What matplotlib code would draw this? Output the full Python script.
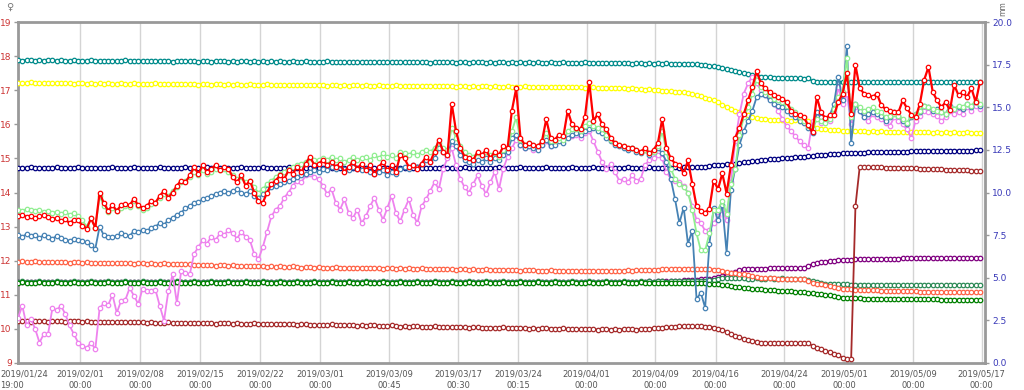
import numpy as np
import pandas as pd
import matplotlib
matplotlib.use('Agg')
import matplotlib.pyplot as plt
import matplotlib.transforms as mtransforms

# ─────────────────────────────────────────
# DATA  (12-hourly readings, 2019/01/24 19:00 -> 2019/05/16 19:00)
# ─────────────────────────────────────────
start_time = '2019-01-24 19:00'
n_points = 225

tick_times = ['2019-01-24 19:00', '2019-02-01 00:00', '2019-02-08 00:00',
              '2019-02-15 00:00', '2019-02-22 00:00', '2019-03-01 00:00',
              '2019-03-09 00:45', '2019-03-17 00:30', '2019-03-24 00:15',
              '2019-04-01 00:00', '2019-04-09 00:00', '2019-04-16 00:00',
              '2019-04-24 00:00', '2019-05-01 00:00', '2019-05-09 00:00',
              '2019-05-17 00:00']

left_ticks = [9, 10, 11, 12, 13, 14, 15, 16, 17, 18, 19]
right_ticks = [0.0, 2.5, 5.0, 7.5, 10.0, 12.5, 15.0, 17.5, 20.0]

teal = [
    17.88, 17.87, 17.89, 17.88, 17.86, 17.88, 17.87, 17.89, 17.88, 17.87,
    17.88, 17.86, 17.87, 17.88, 17.87, 17.86, 17.87, 17.88, 17.86, 17.87,
    17.86, 17.87, 17.85, 17.87, 17.86, 17.88, 17.87, 17.85, 17.86, 17.87,
    17.86, 17.85, 17.86, 17.87, 17.85, 17.86, 17.84, 17.86, 17.85, 17.86,
    17.85, 17.86, 17.84, 17.85, 17.86, 17.84, 17.85, 17.86, 17.85, 17.84,
    17.85, 17.84, 17.86, 17.85, 17.84, 17.85, 17.83, 17.85, 17.84, 17.85,
    17.84, 17.85, 17.83, 17.84, 17.85, 17.83, 17.84, 17.85, 17.84, 17.83,
    17.84, 17.83, 17.85, 17.84, 17.83, 17.84, 17.82, 17.84, 17.83, 17.84,
    17.83, 17.84, 17.82, 17.83, 17.84, 17.82, 17.83, 17.84, 17.83, 17.82,
    17.83, 17.82, 17.84, 17.83, 17.82, 17.83, 17.81, 17.83, 17.82, 17.83,
    17.82, 17.83, 17.81, 17.82, 17.83, 17.81, 17.82, 17.83, 17.82, 17.81,
    17.82, 17.81, 17.83, 17.82, 17.81, 17.82, 17.80, 17.82, 17.81, 17.82,
    17.81, 17.82, 17.80, 17.81, 17.82, 17.80, 17.81, 17.82, 17.81, 17.80,
    17.81, 17.80, 17.82, 17.81, 17.80, 17.81, 17.79, 17.81, 17.80, 17.81,
    17.80, 17.79, 17.80, 17.78, 17.79, 17.80, 17.78, 17.79, 17.78, 17.79,
    17.78, 17.79, 17.77, 17.78, 17.77, 17.78, 17.76, 17.77, 17.76, 17.75,
    17.74, 17.72, 17.70, 17.68, 17.66, 17.62, 17.58, 17.55, 17.52, 17.50,
    17.47, 17.45, 17.42, 17.40, 17.39, 17.38, 17.37, 17.36, 17.36, 17.35,
    17.35, 17.36, 17.35, 17.34, 17.35, 17.27, 17.25, 17.24, 17.25, 17.24,
    17.25, 17.24, 17.25, 17.24, 17.23, 17.24, 17.25, 17.24, 17.23, 17.24,
    17.24, 17.25, 17.24, 17.23, 17.24, 17.25, 17.24, 17.23, 17.24, 17.25,
    17.24, 17.23, 17.24, 17.25, 17.24, 17.23, 17.24, 17.25, 17.24, 17.23,
    17.24, 17.25, 17.24, 17.23, 17.24]

yellow = [
    17.20, 17.22, 17.21, 17.23, 17.22, 17.20, 17.21, 17.22, 17.20, 17.21,
    17.22, 17.20, 17.21, 17.19, 17.20, 17.21, 17.19, 17.20, 17.18, 17.20,
    17.19, 17.20, 17.18, 17.19, 17.20, 17.18, 17.19, 17.20, 17.19, 17.18,
    17.19, 17.18, 17.20, 17.19, 17.17, 17.18, 17.19, 17.17, 17.18, 17.19,
    17.17, 17.18, 17.16, 17.18, 17.17, 17.16, 17.18, 17.17, 17.16, 17.17,
    17.16, 17.17, 17.15, 17.16, 17.17, 17.15, 17.16, 17.15, 17.17, 17.16,
    17.15, 17.16, 17.14, 17.15, 17.16, 17.14, 17.15, 17.14, 17.16, 17.15,
    17.14, 17.15, 17.13, 17.14, 17.15, 17.13, 17.14, 17.13, 17.15, 17.14,
    17.13, 17.14, 17.12, 17.13, 17.14, 17.12, 17.13, 17.12, 17.14, 17.13,
    17.12, 17.13, 17.11, 17.12, 17.13, 17.11, 17.12, 17.11, 17.13, 17.12,
    17.11, 17.12, 17.10, 17.11, 17.12, 17.10, 17.11, 17.10, 17.12, 17.11,
    17.10, 17.11, 17.09, 17.10, 17.11, 17.09, 17.10, 17.09, 17.11, 17.10,
    17.09, 17.10, 17.08, 17.09, 17.10, 17.08, 17.09, 17.08, 17.10, 17.09,
    17.08, 17.09, 17.07, 17.08, 17.09, 17.07, 17.06, 17.07, 17.05, 17.06,
    17.05, 17.06, 17.04, 17.05, 17.03, 17.04, 17.02, 17.03, 17.01, 17.00,
    16.99, 16.98, 16.97, 16.96, 16.95, 16.94, 16.92, 16.90, 16.86, 16.82,
    16.78, 16.74, 16.70, 16.64, 16.58, 16.52, 16.46, 16.40, 16.35, 16.30,
    16.26, 16.22, 16.19, 16.17, 16.15, 16.14, 16.13, 16.12, 16.12, 16.12,
    16.11, 16.12, 16.11, 16.12, 16.10, 15.92, 15.88, 15.86, 15.85, 15.84,
    15.83, 15.82, 15.81, 15.80, 15.80, 15.79, 15.80, 15.79, 15.78, 15.79,
    15.78, 15.79, 15.78, 15.77, 15.78, 15.77, 15.78, 15.77, 15.76, 15.77,
    15.76, 15.77, 15.76, 15.75, 15.76, 15.75, 15.76, 15.75, 15.76, 15.75,
    15.75, 15.76, 15.75, 15.74, 15.75]

navy = [
    14.73, 14.72, 14.73, 14.74, 14.73, 14.72, 14.73, 14.72, 14.73, 14.74,
    14.73, 14.72, 14.73, 14.72, 14.74, 14.73, 14.72, 14.73, 14.72, 14.73,
    14.72, 14.73, 14.74, 14.73, 14.72, 14.73, 14.72, 14.74, 14.73, 14.72,
    14.73, 14.72, 14.73, 14.74, 14.73, 14.72, 14.73, 14.72, 14.73, 14.74,
    14.73, 14.72, 14.73, 14.72, 14.74, 14.73, 14.72, 14.73, 14.72, 14.73,
    14.72, 14.73, 14.74, 14.73, 14.72, 14.73, 14.72, 14.74, 14.73, 14.72,
    14.73, 14.72, 14.73, 14.74, 14.73, 14.72, 14.73, 14.72, 14.73, 14.74,
    14.73, 14.72, 14.73, 14.72, 14.74, 14.73, 14.72, 14.73, 14.72, 14.73,
    14.72, 14.73, 14.74, 14.73, 14.72, 14.73, 14.72, 14.74, 14.73, 14.72,
    14.73, 14.72, 14.73, 14.74, 14.73, 14.72, 14.73, 14.72, 14.73, 14.74,
    14.73, 14.72, 14.73, 14.72, 14.74, 14.73, 14.72, 14.73, 14.72, 14.73,
    14.72, 14.73, 14.74, 14.73, 14.72, 14.73, 14.72, 14.74, 14.73, 14.72,
    14.73, 14.72, 14.73, 14.74, 14.73, 14.72, 14.73, 14.72, 14.73, 14.74,
    14.73, 14.72, 14.73, 14.72, 14.74, 14.73, 14.72, 14.73, 14.72, 14.73,
    14.72, 14.73, 14.74, 14.73, 14.72, 14.73, 14.72, 14.74, 14.73, 14.72,
    14.73, 14.72, 14.73, 14.74, 14.73, 14.74, 14.74, 14.75, 14.75, 14.76,
    14.76, 14.78, 14.80, 14.81, 14.82, 14.83, 14.84, 14.85, 14.86, 14.88,
    14.89, 14.91, 14.93, 14.95, 14.96, 14.97, 14.98, 14.99, 15.00, 15.01,
    15.02, 15.03, 15.04, 15.05, 15.06, 15.08, 15.09, 15.10, 15.11, 15.12,
    15.13, 15.14, 15.15, 15.15, 15.16, 15.16, 15.17, 15.17, 15.18, 15.18,
    15.18, 15.19, 15.19, 15.19, 15.20, 15.20, 15.20, 15.20, 15.21, 15.21,
    15.21, 15.21, 15.22, 15.22, 15.22, 15.22, 15.22, 15.23, 15.23, 15.23,
    15.23, 15.23, 15.23, 15.24, 15.24]

salmon = [
    11.97, 11.98, 11.96, 11.97, 11.98, 11.96, 11.97, 11.95, 11.97, 11.96,
    11.95, 11.96, 11.94, 11.95, 11.96, 11.94, 11.95, 11.94, 11.93, 11.94,
    11.93, 11.94, 11.92, 11.93, 11.94, 11.92, 11.93, 11.91, 11.92, 11.93,
    11.91, 11.92, 11.90, 11.91, 11.92, 11.90, 11.91, 11.89, 11.90, 11.91,
    11.89, 11.88, 11.87, 11.88, 11.86, 11.87, 11.85, 11.86, 11.87, 11.85,
    11.86, 11.85, 11.84, 11.85, 11.83, 11.84, 11.85, 11.83, 11.82, 11.83,
    11.82, 11.83, 11.81, 11.82, 11.83, 11.81, 11.80, 11.81, 11.82, 11.80,
    11.81, 11.80, 11.79, 11.80, 11.81, 11.79, 11.80, 11.78, 11.79, 11.80,
    11.79, 11.78, 11.80, 11.79, 11.78, 11.77, 11.78, 11.79, 11.77, 11.78,
    11.77, 11.78, 11.76, 11.77, 11.78, 11.76, 11.77, 11.75, 11.76, 11.77,
    11.76, 11.75, 11.74, 11.75, 11.76, 11.74, 11.75, 11.73, 11.74, 11.75,
    11.74, 11.73, 11.72, 11.73, 11.74, 11.72, 11.73, 11.71, 11.72, 11.73,
    11.72, 11.71, 11.70, 11.71, 11.72, 11.70, 11.71, 11.69, 11.70, 11.71,
    11.70, 11.71, 11.69, 11.70, 11.71, 11.69, 11.70, 11.71, 11.70, 11.69,
    11.70, 11.71, 11.72, 11.71, 11.72, 11.73, 11.72, 11.74, 11.73, 11.74,
    11.75, 11.76, 11.76, 11.77, 11.77, 11.76, 11.77, 11.76, 11.77, 11.76,
    11.76, 11.75, 11.74, 11.72, 11.70, 11.68, 11.65, 11.63, 11.62, 11.60,
    11.57, 11.54, 11.52, 11.50, 11.49, 11.48, 11.48, 11.47, 11.47, 11.47,
    11.47, 11.46, 11.46, 11.45, 11.40, 11.35, 11.33, 11.31, 11.28, 11.25,
    11.22, 11.20, 11.18, 11.17, 11.16, 11.15, 11.15, 11.14, 11.14, 11.13,
    11.13, 11.12, 11.12, 11.11, 11.11, 11.11, 11.10, 11.10, 11.10, 11.10,
    11.09, 11.09, 11.09, 11.09, 11.08, 11.08, 11.08, 11.08, 11.08, 11.07,
    11.07, 11.07, 11.07, 11.07, 11.07]

green = [
    11.36, 11.37, 11.36, 11.35, 11.36, 11.37, 11.36, 11.35, 11.36, 11.37,
    11.36, 11.35, 11.36, 11.37, 11.36, 11.35, 11.36, 11.37, 11.36, 11.35,
    11.36, 11.37, 11.36, 11.35, 11.36, 11.37, 11.36, 11.35, 11.36, 11.37,
    11.36, 11.35, 11.36, 11.37, 11.36, 11.35, 11.36, 11.37, 11.36, 11.35,
    11.36, 11.37, 11.36, 11.35, 11.36, 11.37, 11.36, 11.35, 11.36, 11.37,
    11.36, 11.35, 11.36, 11.37, 11.36, 11.35, 11.36, 11.37, 11.36, 11.35,
    11.36, 11.37, 11.36, 11.35, 11.36, 11.37, 11.36, 11.35, 11.36, 11.37,
    11.36, 11.35, 11.36, 11.37, 11.36, 11.35, 11.36, 11.37, 11.36, 11.35,
    11.36, 11.37, 11.36, 11.35, 11.36, 11.37, 11.36, 11.35, 11.36, 11.37,
    11.36, 11.35, 11.36, 11.37, 11.36, 11.35, 11.36, 11.37, 11.36, 11.35,
    11.36, 11.37, 11.36, 11.35, 11.36, 11.37, 11.36, 11.35, 11.36, 11.37,
    11.36, 11.35, 11.36, 11.37, 11.36, 11.35, 11.36, 11.37, 11.36, 11.35,
    11.36, 11.37, 11.36, 11.35, 11.36, 11.37, 11.36, 11.35, 11.36, 11.37,
    11.36, 11.35, 11.36, 11.37, 11.36, 11.35, 11.36, 11.37, 11.36, 11.35,
    11.36, 11.37, 11.36, 11.35, 11.36, 11.37, 11.36, 11.35, 11.36, 11.35,
    11.36, 11.35, 11.36, 11.35, 11.34, 11.35, 11.34, 11.35, 11.34, 11.34,
    11.34, 11.33, 11.32, 11.31, 11.30, 11.28, 11.26, 11.24, 11.22, 11.20,
    11.19, 11.18, 11.17, 11.16, 11.15, 11.14, 11.13, 11.12, 11.12, 11.11,
    11.10, 11.09, 11.08, 11.07, 11.06, 11.05, 11.03, 11.01, 11.00, 10.98,
    10.96, 10.94, 10.92, 10.91, 10.90, 10.90, 10.90, 10.89, 10.89, 10.89,
    10.89, 10.89, 10.88, 10.88, 10.88, 10.88, 10.88, 10.88, 10.87, 10.87,
    10.87, 10.87, 10.87, 10.87, 10.87, 10.86, 10.86, 10.86, 10.86, 10.86,
    10.86, 10.86, 10.86, 10.86, 10.85]

seagreen = [
    11.39, 11.40, 11.39, 11.38, 11.39, 11.40, 11.39, 11.38, 11.39, 11.40,
    11.39, 11.38, 11.39, 11.40, 11.39, 11.38, 11.39, 11.40, 11.39, 11.38,
    11.39, 11.40, 11.39, 11.38, 11.39, 11.40, 11.39, 11.38, 11.39, 11.40,
    11.39, 11.38, 11.39, 11.40, 11.39, 11.38, 11.39, 11.40, 11.39, 11.38,
    11.39, 11.40, 11.39, 11.38, 11.39, 11.40, 11.39, 11.38, 11.39, 11.40,
    11.39, 11.38, 11.39, 11.40, 11.39, 11.38, 11.39, 11.40, 11.39, 11.38,
    11.39, 11.40, 11.39, 11.38, 11.39, 11.40, 11.39, 11.38, 11.39, 11.40,
    11.39, 11.38, 11.39, 11.40, 11.39, 11.38, 11.39, 11.40, 11.39, 11.38,
    11.39, 11.40, 11.39, 11.38, 11.39, 11.40, 11.39, 11.38, 11.39, 11.40,
    11.39, 11.38, 11.39, 11.40, 11.39, 11.38, 11.39, 11.40, 11.39, 11.38,
    11.39, 11.40, 11.39, 11.38, 11.39, 11.40, 11.39, 11.38, 11.39, 11.40,
    11.39, 11.38, 11.39, 11.40, 11.39, 11.38, 11.39, 11.40, 11.39, 11.38,
    11.39, 11.40, 11.39, 11.38, 11.39, 11.40, 11.39, 11.38, 11.39, 11.40,
    11.39, 11.38, 11.39, 11.40, 11.39, 11.38, 11.39, 11.40, 11.39, 11.38,
    11.39, 11.40, 11.39, 11.38, 11.39, 11.40, 11.39, 11.40, 11.39, 11.40,
    11.40, 11.39, 11.40, 11.40, 11.41, 11.40, 11.41, 11.41, 11.40, 11.41,
    11.40, 11.42, 11.44, 11.46, 11.48, 11.50, 11.50, 11.49, 11.48, 11.48,
    11.47, 11.47, 11.48, 11.47, 11.47, 11.48, 11.47, 11.47, 11.48, 11.47,
    11.47, 11.46, 11.46, 11.45, 11.43, 11.41, 11.38, 11.35, 11.33, 11.32,
    11.32, 11.31, 11.31, 11.31, 11.30, 11.30, 11.30, 11.30, 11.30, 11.30,
    11.30, 11.30, 11.29, 11.30, 11.29, 11.30, 11.29, 11.29, 11.30, 11.29,
    11.29, 11.29, 11.30, 11.29, 11.29, 11.29, 11.28, 11.29, 11.29, 11.28,
    11.29, 11.28, 11.29, 11.28, 11.28]

purple = [
    11.38, 11.39, 11.38, 11.37, 11.38, 11.39, 11.38, 11.37, 11.38, 11.39,
    11.38, 11.37, 11.38, 11.39, 11.38, 11.37, 11.38, 11.39, 11.38, 11.37,
    11.38, 11.39, 11.38, 11.37, 11.38, 11.39, 11.38, 11.37, 11.38, 11.39,
    11.38, 11.37, 11.38, 11.39, 11.38, 11.37, 11.38, 11.39, 11.38, 11.37,
    11.38, 11.39, 11.38, 11.37, 11.38, 11.39, 11.38, 11.37, 11.38, 11.39,
    11.38, 11.37, 11.38, 11.39, 11.38, 11.37, 11.38, 11.39, 11.38, 11.37,
    11.38, 11.39, 11.38, 11.37, 11.38, 11.39, 11.38, 11.37, 11.38, 11.39,
    11.38, 11.37, 11.38, 11.39, 11.38, 11.37, 11.38, 11.39, 11.38, 11.37,
    11.38, 11.39, 11.38, 11.37, 11.38, 11.39, 11.38, 11.37, 11.38, 11.39,
    11.38, 11.37, 11.38, 11.39, 11.38, 11.37, 11.38, 11.39, 11.38, 11.37,
    11.38, 11.39, 11.38, 11.37, 11.38, 11.39, 11.38, 11.37, 11.38, 11.39,
    11.38, 11.37, 11.38, 11.39, 11.38, 11.37, 11.38, 11.39, 11.38, 11.37,
    11.38, 11.39, 11.38, 11.37, 11.38, 11.39, 11.38, 11.37, 11.38, 11.39,
    11.38, 11.37, 11.38, 11.39, 11.38, 11.37, 11.38, 11.39, 11.38, 11.37,
    11.38, 11.39, 11.38, 11.39, 11.38, 11.39, 11.39, 11.40, 11.39, 11.40,
    11.40, 11.40, 11.41, 11.41, 11.41, 11.42, 11.42, 11.43, 11.44, 11.45,
    11.46, 11.47, 11.48, 11.52, 11.56, 11.60, 11.64, 11.68, 11.72, 11.75,
    11.76, 11.77, 11.77, 11.77, 11.77, 11.78, 11.78, 11.78, 11.78, 11.78,
    11.78, 11.79, 11.79, 11.79, 11.85, 11.90, 11.92, 11.95, 11.97, 11.99,
    12.00, 12.01, 12.02, 12.03, 12.03, 12.04, 12.04, 12.05, 12.05, 12.05,
    12.06, 12.06, 12.06, 12.06, 12.06, 12.06, 12.07, 12.07, 12.07, 12.07,
    12.07, 12.07, 12.07, 12.07, 12.08, 12.08, 12.08, 12.08, 12.08, 12.08,
    12.08, 12.08, 12.08, 12.09, 12.09]

brown = [
    10.22, 10.23, 10.22, 10.21, 10.22, 10.23, 10.22, 10.21, 10.22, 10.23,
    10.22, 10.21, 10.22, 10.23, 10.22, 10.21, 10.22, 10.21, 10.20, 10.21,
    10.20, 10.21, 10.20, 10.19, 10.20, 10.21, 10.20, 10.19, 10.20, 10.19,
    10.18, 10.19, 10.18, 10.17, 10.18, 10.19, 10.17, 10.18, 10.17, 10.16,
    10.17, 10.16, 10.17, 10.18, 10.17, 10.16, 10.15, 10.16, 10.17, 10.16,
    10.15, 10.16, 10.15, 10.14, 10.15, 10.16, 10.14, 10.15, 10.14, 10.13,
    10.14, 10.13, 10.14, 10.15, 10.13, 10.12, 10.13, 10.14, 10.12, 10.11,
    10.12, 10.11, 10.12, 10.13, 10.11, 10.10, 10.11, 10.12, 10.10, 10.09,
    10.10, 10.09, 10.10, 10.11, 10.09, 10.08, 10.09, 10.10, 10.08, 10.07,
    10.08, 10.07, 10.08, 10.09, 10.07, 10.06, 10.07, 10.08, 10.06, 10.05,
    10.06, 10.05, 10.06, 10.07, 10.05, 10.04, 10.05, 10.06, 10.04, 10.03,
    10.04, 10.03, 10.04, 10.05, 10.03, 10.02, 10.03, 10.04, 10.02, 10.01,
    10.02, 10.01, 10.02, 10.03, 10.01, 10.00, 10.01, 10.02, 10.00, 9.99,
    10.00, 9.99, 10.00, 10.01, 9.99, 9.98, 9.99, 10.00, 9.98, 9.99,
    9.98, 9.99, 10.00, 9.99, 9.98, 9.99, 10.00, 10.01, 10.02, 10.03,
    10.04, 10.05, 10.06, 10.07, 10.08, 10.08, 10.09, 10.08, 10.09, 10.08,
    10.07, 10.06, 10.04, 10.01, 9.97, 9.92, 9.86, 9.80, 9.75, 9.71,
    9.68, 9.65, 9.62, 9.60, 9.59, 9.59, 9.59, 9.59, 9.59, 9.59,
    9.59, 9.59, 9.59, 9.59, 9.59, 9.50, 9.44, 9.40, 9.36, 9.32,
    9.26, 9.22, 9.16, 9.13, 9.12, 13.60, 14.76, 14.75, 14.75, 14.74,
    14.74, 14.74, 14.73, 14.73, 14.73, 14.72, 14.72, 14.72, 14.71, 14.71,
    14.70, 14.70, 14.69, 14.69, 14.68, 14.68, 14.67, 14.67, 14.66, 14.66,
    14.65, 14.65, 14.64, 14.64, 14.63]

violet = [
    10.32, 10.68, 10.10, 10.30, 10.00, 9.60, 9.85, 9.85, 10.60, 10.55,
    10.68, 10.44, 10.10, 9.85, 9.60, 9.50, 9.44, 9.60, 9.40, 10.60,
    10.76, 10.70, 11.00, 10.47, 10.82, 10.85, 11.20, 10.97, 10.73, 11.18,
    11.10, 11.12, 11.15, 10.68, 10.24, 11.10, 11.60, 10.76, 11.70, 11.65,
    11.60, 12.20, 12.40, 12.60, 12.50, 12.70, 12.60, 12.80, 12.75, 12.90,
    12.80, 12.65, 12.85, 12.70, 12.60, 12.20, 12.05, 12.40, 12.85, 13.30,
    13.50, 13.60, 13.85, 14.00, 14.20, 14.35, 14.30, 14.50, 14.55, 14.45,
    14.40, 14.20, 13.95, 14.10, 13.70, 13.50, 13.80, 13.40, 13.25, 13.50,
    13.10, 13.30, 13.60, 13.85, 13.50, 13.20, 13.55, 13.90, 13.40, 13.15,
    13.50, 13.80, 13.35, 13.10, 13.60, 13.80, 14.05, 14.30, 14.10, 14.70,
    15.00, 15.30, 14.80, 14.40, 14.15, 14.00, 14.25, 14.50, 14.20, 13.95,
    14.30, 14.60, 14.10, 14.70, 15.05, 15.30, 15.55, 15.40, 15.30, 15.35,
    15.25, 15.30, 15.40, 15.50, 15.35, 15.45, 15.55, 15.60, 15.70, 15.65,
    15.70, 15.60, 15.75, 15.80, 15.50, 15.20, 14.90, 14.70, 14.85, 14.60,
    14.35, 14.40, 14.30, 14.50, 14.35, 14.40, 14.80, 14.95, 15.00, 15.10,
    15.00, 14.60, 14.40, 14.35, 14.30, 14.20, 14.00, 13.60, 13.20, 13.10,
    12.88, 12.90, 13.10, 13.30, 13.50, 13.20, 14.30, 15.50, 16.30, 16.90,
    17.20, 17.40, 17.20, 17.00, 16.85, 16.75, 16.60, 16.40, 16.15, 15.95,
    15.80, 15.65, 15.50, 15.38, 15.30, 16.10, 16.20, 16.05, 16.15, 16.10,
    16.35, 17.10, 16.60, 16.90, 16.00, 16.50, 16.40, 16.20, 16.10, 16.30,
    16.20, 16.15, 16.05, 15.95, 16.20, 16.10, 16.00, 15.85, 15.60, 16.10,
    16.25, 16.40, 16.35, 16.30, 16.25, 16.10, 16.20, 16.40, 16.30, 16.35,
    16.30, 16.50, 16.40, 16.55, 16.45]

steelblue = [
    12.75, 12.70, 12.78, 12.72, 12.76, 12.68, 12.74, 12.70, 12.65, 12.72,
    12.66, 12.62, 12.58, 12.64, 12.60, 12.58, 12.54, 12.45, 12.35, 13.00,
    12.74, 12.69, 12.70, 12.72, 12.80, 12.75, 12.72, 12.88, 12.85, 12.90,
    12.88, 12.95, 13.00, 13.10, 13.05, 13.20, 13.25, 13.35, 13.40, 13.55,
    13.60, 13.70, 13.72, 13.80, 13.85, 13.90, 13.95, 14.00, 14.05, 14.00,
    14.05, 14.10, 14.00, 13.95, 14.05, 13.90, 13.85, 13.95, 14.10, 14.15,
    14.20, 14.25, 14.30, 14.35, 14.40, 14.45, 14.50, 14.55, 14.60, 14.65,
    14.60, 14.70, 14.65, 14.75, 14.70, 14.80, 14.70, 14.65, 14.75, 14.70,
    14.65, 14.70, 14.60, 14.55, 14.60, 14.65, 14.50, 14.60, 14.55, 14.70,
    14.75, 14.70, 14.80, 14.75, 14.85, 14.95, 14.90, 15.00, 15.30, 15.20,
    15.10, 15.50, 15.35, 15.10, 14.95, 14.90, 14.85, 14.95, 14.90, 15.00,
    14.90, 15.00, 14.95, 15.10, 15.20, 15.60, 15.70, 15.40, 15.30, 15.35,
    15.30, 15.25, 15.40, 15.55, 15.35, 15.40, 15.50, 15.45, 15.60, 15.70,
    15.75, 15.70, 15.80, 15.85, 15.90, 15.80, 15.75, 15.60, 15.50, 15.40,
    15.35, 15.30, 15.25, 15.30, 15.20, 15.15, 15.25, 15.10, 15.20, 15.30,
    15.15, 14.90, 14.40, 13.80, 13.10, 13.56, 12.50, 12.88, 10.88, 11.06,
    10.62, 12.50, 13.56, 13.18, 13.62, 12.24, 14.06, 14.70, 15.40, 15.80,
    16.10, 16.40, 16.80, 16.90, 16.85, 16.70, 16.60, 16.55, 16.50, 16.40,
    16.30, 16.20, 16.10, 16.05, 15.90, 15.75, 16.35, 16.20, 16.15, 16.25,
    16.60, 17.40, 16.70, 18.30, 15.45, 16.60, 16.40, 16.20, 16.30, 16.35,
    16.30, 16.25, 16.10, 16.20, 16.35, 16.25, 16.10, 16.00, 16.20, 16.30,
    16.35, 16.55, 16.50, 16.40, 16.45, 16.35, 16.30, 16.55, 16.45, 16.50,
    16.45, 16.60, 16.50, 16.65, 16.55]

lightgreen = [
    13.50, 13.45, 13.52, 13.48, 13.45, 13.50, 13.42, 13.46, 13.40, 13.44,
    13.38, 13.42, 13.35, 13.40, 13.30, 13.18, 13.00, 13.25, 12.95, 13.90,
    13.60, 13.42, 13.55, 13.45, 13.55, 13.60, 13.58, 13.75, 13.60, 13.50,
    13.55, 13.65, 13.70, 13.85, 13.95, 13.90, 14.05, 14.15, 14.30, 14.35,
    14.45, 14.60, 14.50, 14.65, 14.55, 14.60, 14.70, 14.65, 14.70, 14.60,
    14.50, 14.40, 14.45, 14.30, 14.35, 14.15, 14.00, 14.10, 14.25, 14.35,
    14.45, 14.55, 14.60, 14.70, 14.75, 14.80, 14.85, 14.90, 15.00, 14.95,
    14.95, 15.00, 14.95, 15.05, 14.95, 15.00, 14.90, 14.95, 15.05, 14.95,
    15.00, 15.05, 14.95, 15.10, 15.00, 15.15, 15.05, 15.10, 15.00, 15.20,
    15.15, 15.10, 15.20, 15.10, 15.20, 15.25, 15.20, 15.30, 15.45, 15.30,
    15.25, 15.90, 15.60, 15.35, 15.20, 15.10, 15.05, 15.15, 15.10, 15.20,
    15.10, 15.15, 15.05, 15.25, 15.30, 15.80, 16.20, 15.55, 15.40, 15.45,
    15.40, 15.35, 15.50, 15.75, 15.50, 15.50, 15.60, 15.55, 15.80, 15.85,
    15.85, 15.80, 15.95, 16.05, 15.95, 15.90, 15.85, 15.70, 15.55, 15.45,
    15.40, 15.35, 15.30, 15.30, 15.25, 15.20, 15.25, 15.15, 15.20, 15.35,
    15.80, 15.20, 14.70, 14.40, 14.26, 14.15, 14.00, 13.50, 12.80, 12.30,
    12.30, 12.80, 13.50, 13.50, 13.76, 13.38, 14.26, 14.70, 15.70, 16.20,
    16.50, 16.90, 17.30, 17.10, 16.95, 16.85, 16.75, 16.70, 16.65, 16.55,
    16.45, 16.35, 16.20, 16.10, 15.95, 15.85, 16.15, 16.10, 16.05, 16.15,
    16.45, 16.80, 16.95, 17.95, 16.20, 16.60, 16.50, 16.40, 16.45, 16.50,
    16.40, 16.35, 16.20, 16.25, 16.30, 16.25, 16.15, 16.05, 16.25, 16.30,
    16.40, 16.55, 16.50, 16.45, 16.40, 16.35, 16.30, 16.50, 16.45, 16.55,
    16.50, 16.60, 16.55, 16.70, 16.60]

red = [
    13.30, 13.35, 13.28, 13.32, 13.25, 13.30, 13.33, 13.27, 13.22, 13.25,
    13.15, 13.22, 13.10, 13.20, 13.18, 13.03, 12.94, 13.24, 12.97, 14.00,
    13.68, 13.47, 13.62, 13.47, 13.62, 13.65, 13.62, 13.82, 13.62, 13.55,
    13.60, 13.75, 13.70, 13.90, 14.05, 13.85, 14.00, 14.20, 14.35, 14.30,
    14.50, 14.75, 14.55, 14.80, 14.60, 14.70, 14.80, 14.65, 14.75, 14.70,
    14.45, 14.30, 14.50, 14.20, 14.35, 14.00, 13.75, 13.70, 14.00, 14.25,
    14.35, 14.50, 14.40, 14.65, 14.55, 14.75, 14.60, 14.85, 15.05, 14.80,
    14.85, 14.95, 14.80, 14.90, 14.75, 14.85, 14.60, 14.75, 14.90, 14.70,
    14.85, 14.65, 14.80, 14.55, 14.75, 14.90, 14.65, 14.80, 14.60, 15.10,
    15.00, 14.75, 14.80, 14.70, 14.85, 15.05, 14.90, 15.20, 15.55, 15.20,
    15.10, 16.60, 15.80, 15.30, 15.05, 15.00, 14.95, 15.20, 15.10, 15.25,
    15.00, 15.20, 15.10, 15.35, 15.30, 16.40, 17.05, 15.60, 15.40, 15.45,
    15.40, 15.35, 15.50, 16.15, 15.60, 15.55, 15.70, 15.65, 16.40, 16.00,
    15.90, 15.85, 16.20, 17.25, 16.10, 16.30, 16.00, 15.85, 15.60, 15.45,
    15.40, 15.35, 15.30, 15.30, 15.25, 15.20, 15.30, 15.15, 15.25, 15.45,
    16.15, 15.30, 15.00, 14.85, 14.80, 14.56, 14.94, 14.26, 13.60, 13.47,
    13.41, 13.53, 14.35, 14.10, 14.56, 13.97, 14.80, 15.60, 15.90, 16.30,
    16.70, 17.10, 17.55, 17.20, 17.05, 16.95, 16.85, 16.80, 16.75, 16.65,
    16.40, 16.30, 16.26, 16.20, 15.97, 15.76, 16.80, 16.35, 16.18, 16.26,
    16.26, 16.65, 16.90, 17.50, 16.30, 17.74, 17.06, 16.90, 16.85, 16.80,
    16.90, 16.56, 16.45, 16.38, 16.35, 16.35, 16.70, 16.47, 16.28, 16.20,
    16.60, 17.30, 17.68, 16.95, 16.70, 16.50, 16.65, 16.41, 17.15, 16.85,
    16.94, 16.80, 17.06, 16.65, 17.25]

# drawing order: bottom first
series = [
    (purple, '#800080'),
    (seagreen, '#2e8b57'),
    (green, '#008000'),
    (salmon, '#ff6347'),
    (brown, '#a52a2a'),
    (navy, '#000080'),
    (yellow, '#ffff00'),
    (teal, '#008b8b'),
    (violet, '#ee82ee'),
    (steelblue, '#4682b4'),
    (lightgreen, '#90ee90'),
    (red, '#ff0000'),
]

# ─────────────────────────────────────────
# PLOT
# ─────────────────────────────────────────
times = pd.date_range(start_time, periods=n_points, freq='12h')
ticks = pd.to_datetime(tick_times)

fig = plt.figure(figsize=(10.24, 3.9), dpi=100)
ax = fig.add_axes([18 / 1024, 1 - 363 / 390, (985 - 18) / 1024, (363 - 22) / 390])

for values, color in series:
    lw = 1.6 if color == '#ff0000' else 1.3
    ax.plot(times, values, color=color, linewidth=lw,
            marker='o', markersize=3.2, markeredgewidth=0.9,
            markerfacecolor='white', markeredgecolor=color, zorder=3)

ax.set_xlim(pd.Timestamp(start_time), pd.Timestamp('2019-05-17 09:00'))
ax.set_ylim(9, 19)
ax.set_yticks(left_ticks)
ax.set_yticklabels([str(v) for v in left_ticks])

ax.set_xticks(ticks)
ax.set_xticklabels([t.strftime('%Y/%m/%d\n%H:%M') for t in ticks])
ax.grid(axis='x', color='#d4d4d4', linewidth=1.0, zorder=0)
ax.set_axisbelow(True)

ax.tick_params(axis='x', length=0, pad=5, labelsize=6, labelcolor='#555555')
ax.tick_params(axis='y', length=3, width=1, color='#999999', pad=1.5,
               labelsize=6.5, labelcolor='#cc3333')
for side in ['left', 'bottom', 'top', 'right']:
    ax.spines[side].set_color('#999999')
    ax.spines[side].set_linewidth(2)

for lbl in ax.get_xticklabels():
    lbl.set_linespacing(1.3)

# first label is pushed right so it stays inside the picture
first = ax.get_xticklabels()[0]
first.set_horizontalalignment('left')
first.set_transform(first.get_transform() +
                    mtransforms.ScaledTranslation(-0.18, 0, fig.dpi_scale_trans))

# right axis (mm)
ax2 = ax.twinx()
ax2.set_ylim(0, 20)
ax2.set_yticks(right_ticks)
ax2.set_yticklabels([f'{v:.1f}' for v in right_ticks])
ax2.tick_params(axis='y', length=3, width=1, color='#999999', pad=2,
                labelsize=6.5, labelcolor='#3838b8')
for side in ['left', 'bottom', 'top', 'right']:
    ax2.spines[side].set_visible(False)

# unit labels at the top of each axis
fig.text(10 / 1024, 1 - 7 / 390, '♀', rotation=0, fontsize=7,
         color='#777777', ha='center', va='center')
fig.text(1003 / 1024, 1 - 9 / 390, 'mm', rotation=90, fontsize=5.5,
         color='#666666', ha='center', va='center')

plt.savefig('out.png', dpi=100)
plt.close()
